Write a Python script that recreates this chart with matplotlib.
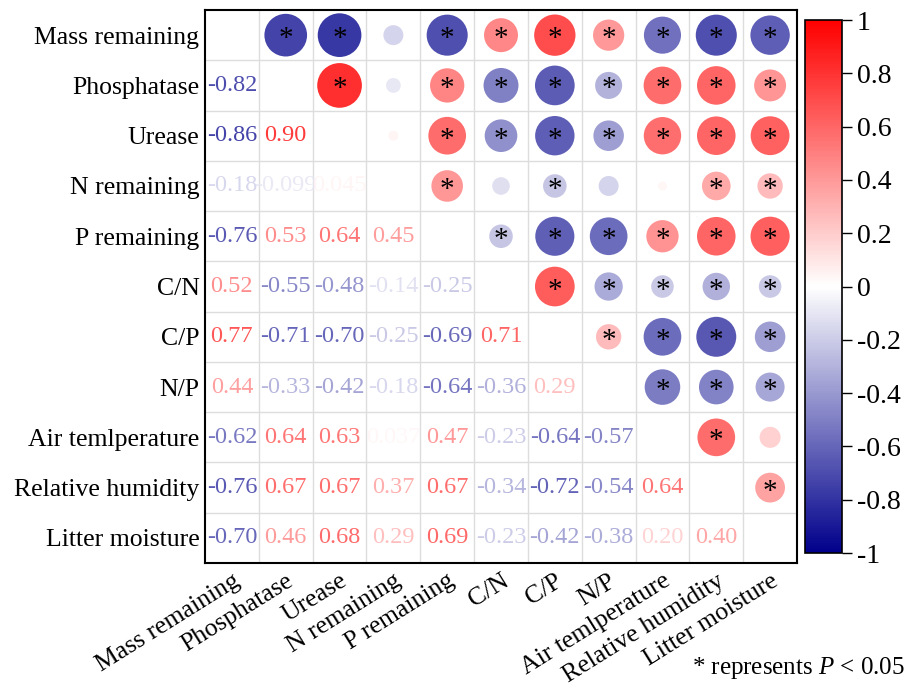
import numpy as np
import matplotlib.pyplot as plt
from matplotlib.colors import LinearSegmentedColormap, Normalize
from matplotlib.transforms import ScaledTranslation

plt.rcParams['font.family'] = ['Liberation Serif', 'DejaVu Serif']
plt.rcParams['mathtext.fontset'] = 'custom'
plt.rcParams['mathtext.rm'] = 'Liberation Serif'
plt.rcParams['mathtext.it'] = 'Liberation Serif:italic'

labels = ["Mass remaining", "Phosphatase", "Urease", "N remaining", "P remaining",
          "C/N", "C/P", "N/P", "Air temlperature", "Relative humidity", "Litter moisture"]

# lower triangle, row by row
lower = [
    [],
    [-0.82],
    [-0.86, 0.90],
    [-0.18, -0.099, 0.045],
    [-0.76, 0.53, 0.64, 0.45],
    [0.52, -0.55, -0.48, -0.14, -0.25],
    [0.77, -0.71, -0.70, -0.25, -0.69, 0.71],
    [0.44, -0.33, -0.42, -0.18, -0.64, -0.36, 0.29],
    [-0.62, 0.64, 0.63, 0.037, 0.47, -0.23, -0.64, -0.57],
    [-0.76, 0.67, 0.67, 0.37, 0.67, -0.34, -0.72, -0.54, 0.64],
    [-0.70, 0.46, 0.68, 0.29, 0.69, -0.23, -0.42, -0.38, 0.20, 0.40],
]

# significance (P < 0.05) for the upper triangle, row by row (columns after diagonal)
signif = [
    [1, 1, 0, 1, 1, 1, 1, 1, 1, 1],
    [1, 0, 1, 1, 1, 1, 1, 1, 1],
    [0, 1, 1, 1, 1, 1, 1, 1],
    [1, 0, 1, 0, 0, 1, 1],
    [1, 1, 1, 1, 1, 1],
    [1, 1, 1, 1, 1],
    [1, 1, 1, 1],
    [1, 1, 1],
    [1, 0],
    [1],
]

n = len(labels)
corr = np.eye(n)
for i, row in enumerate(lower):
    for j, v in enumerate(row):
        corr[i, j] = v
        corr[j, i] = v

cmap = LinearSegmentedColormap.from_list("bwr_dark", ["#00008B", "#ffffff", "#ff0000"])
norm = Normalize(-1, 1)

fig = plt.figure(figsize=(9.14, 6.91), dpi=100)
ax = fig.add_axes([0.2243, 0.1852, 0.872 - 0.2243, 0.9855 - 0.1852])
ax.set_xlim(-0.5, n - 0.5)
ax.set_ylim(n - 0.5, -0.5)

# grid lines between cells
for k in range(1, n):
    ax.axvline(k - 0.5, color="#dddddd", lw=1, zorder=0)
    ax.axhline(k - 0.5, color="#dddddd", lw=1, zorder=0)

# upper triangle: circles, area proportional to |r|
xs, ys, cs, ss = [], [], [], []
for i in range(n):
    for j in range(i + 1, n):
        xs.append(j)
        ys.append(i)
        cs.append(corr[i, j])
        ss.append(1150 * abs(corr[i, j]))
ax.scatter(xs, ys, s=ss, c=cs, cmap=cmap, norm=norm, edgecolors="none",
           alpha=0.9, zorder=2)

for i, row in enumerate(signif):
    for k, flag in enumerate(row):
        if flag:
            ax.text(i + 1 + k, i + 0.08, "*", ha="center", va="center",
                    fontsize=21, color="black", zorder=3)

# lower triangle: coefficient values
for i, row in enumerate(lower):
    for j, v in enumerate(row):
        txt = f"{v:.2f}" if abs(v) >= 0.1 else f"{v:.2g}"
        ax.text(j, i, txt, ha="center", va="center", fontsize=17.5,
                color=cmap(norm(v)), alpha=0.85, zorder=3)

ax.set_xticks(range(n))
ax.set_yticks(range(n))
ax.set_yticklabels(labels, fontsize=18.5)
ax.set_xticklabels(labels, fontsize=18.5, rotation=32, ha="right", rotation_mode="anchor")
shift = ScaledTranslation(16 / 100, 0, fig.dpi_scale_trans)
for lbl in ax.get_xticklabels():
    lbl.set_transform(lbl.get_transform() + shift)
ax.tick_params(length=0, pad=4)
ax.tick_params(axis="x", pad=5)
for sp in ax.spines.values():
    sp.set_linewidth(1.5)

cax = fig.add_axes([0.8807, 0.1997, 0.0405, 0.7713])
sm = plt.cm.ScalarMappable(norm=norm, cmap=cmap)
cb = fig.colorbar(sm, cax=cax, ticks=np.arange(-1, 1.01, 0.2))
cb.ax.set_yticklabels(["-1", "-0.8", "-0.6", "-0.4", "-0.2", "0", "0.2", "0.4", "0.6", "0.8", "1"])
cb.ax.tick_params(labelsize=20, length=7, width=1)
cb.outline.set_linewidth(1.2)

fig.text(0.99, 0.015, r"* represents $\it{P}$ < 0.05", ha="right", va="bottom", fontsize=18)

fig.savefig("out.png", dpi=100)
